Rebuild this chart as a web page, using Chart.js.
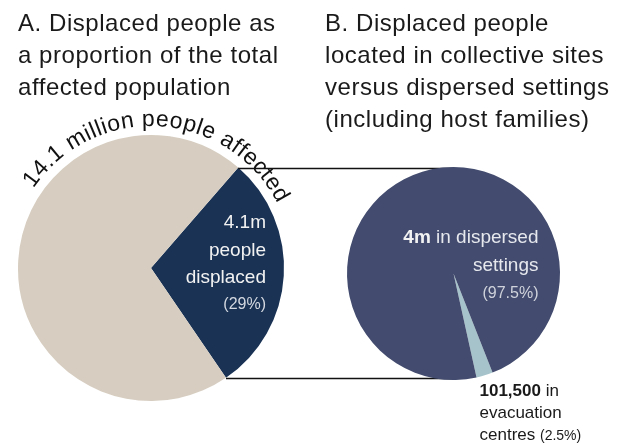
<!DOCTYPE html>
<html>
<head>
<meta charset="utf-8">
<script src="https://cdn.jsdelivr.net/npm/chart.js@4.4.1/dist/chart.umd.min.js"></script>
<style>
  body { margin: 0; background: #fff; }
  #wrap { position: relative; width: 623px; height: 443px; font-family: "Liberation Sans", Arial, sans-serif; color: #1a1a1a; overflow: hidden; }
  canvas { position: absolute; left: 0; top: 0; }
  .title { position: absolute; font-size: 24px; line-height: 32px; letter-spacing: 0.55px; white-space: nowrap; }
</style>
</head>
<body>
<div id="wrap">
  <canvas id="pieA" width="623" height="443"></canvas>
  <canvas id="pieB" width="623" height="443"></canvas>
  <div class="title" style="left:18px; top:7px;">A. Displaced people as<br>a proportion of the total<br>affected population</div>
  <div class="title" style="left:325px; top:7px;">B. Displaced people<br>located in collective sites<br>versus dispersed settings<br>(including host families)</div>
</div>
<script>
// A: displaced vs rest of the affected population (millions)
const affectedLabels = ['People displaced', 'Other affected people'];
const affectedValues = [4.1, 10.0];
const affectedColors = ['#1a3355', '#d7cec1'];
const affectedTotalText = '14.1 million people affected';

// B: where displaced people are staying (% of displaced)
const siteLabels = ['Evacuation centres', 'Dispersed settings'];
const siteValues = [2.5, 97.5];
const siteColors = ['#a6c3cb', '#434c6e'];

const FONT = '"Liberation Sans", Arial, sans-serif';

// total written round the top of pie A
const arcText = {
  id: 'arcText',
  afterDatasetsDraw(chart) {
    const a = chart.getDatasetMeta(0).data[0];
    const ctx = chart.ctx;
    ctx.save();
    ctx.font = '23px ' + FONT;
    ctx.fillStyle = '#111';
    ctx.textAlign = 'center';
    ctx.textBaseline = 'alphabetic';
    const r = a.outerRadius + 9;
    const chars = [...affectedTotalText];
    const widths = chars.map(c => ctx.measureText(c).width);
    const total = widths.reduce((s, w) => s + w, 0);
    const span = 119 * Math.PI / 180 * r;
    const extra = (span - total) / (chars.length - 1);
    let ang = -56 * Math.PI / 180;
    chars.forEach((c, i) => {
      const mid = ang + widths[i] / 2 / r;
      ctx.save();
      ctx.translate(a.x + r * Math.sin(mid), a.y - r * Math.cos(mid));
      ctx.rotate(mid);
      ctx.fillText(c, 0, 0);
      ctx.restore();
      ang += (widths[i] + extra) / r;
    });
    ctx.restore();
  }
};

// labels inside the displaced slice
const labelsA = {
  id: 'labelsA',
  afterDatasetsDraw(chart) {
    const a = chart.getDatasetMeta(0).data[0];
    const ctx = chart.ctx;
    const x = a.x + 115;
    ctx.save();
    ctx.textAlign = 'right';
    ctx.fillStyle = '#f2f2f2';
    ctx.font = '19px ' + FONT;
    ctx.fillText('4.1m', x, a.y - 40);
    ctx.fillText('people', x, a.y - 12);
    ctx.fillText('displaced', x, a.y + 15);
    ctx.fillStyle = '#d4d8e0';
    ctx.font = '16px ' + FONT;
    ctx.fillText('(' + Math.round(affectedValues[0] / (affectedValues[0] + affectedValues[1]) * 100) + '%)', x, a.y + 41);
    ctx.restore();
  }
};

const chartA = new Chart(document.getElementById('pieA'), {
  type: 'pie',
  data: {
    labels: affectedLabels,
    datasets: [{ data: affectedValues, backgroundColor: affectedColors, borderWidth: 0 }]
  },
  options: {
    responsive: false,
    animation: false,
    rotation: 41,
    layout: { padding: { left: 18, right: 339, top: 135, bottom: 42 } },
    plugins: { legend: { display: false }, tooltip: { enabled: false } }
  },
  plugins: [arcText, labelsA]
});

// lines from the displaced slice of A over to pie B
const connectors = {
  id: 'connectors',
  beforeDatasetsDraw(chart) {
    const src = chartA.getDatasetMeta(0).data[0];
    const dst = chart.getDatasetMeta(0).data[0];
    const ctx = chart.ctx;
    ctx.save();
    ctx.strokeStyle = '#111';
    ctx.lineWidth = 1.3;
    [src.startAngle, src.endAngle].forEach(t => {
      const y = Math.round(src.y + src.outerRadius * Math.sin(t)) + 0.5;
      ctx.beginPath();
      ctx.moveTo(src.x + src.outerRadius * Math.cos(t), y);
      ctx.lineTo(dst.x, y);
      ctx.stroke();
    });
    ctx.restore();
  },
  afterDatasetsDraw(chart) {
    const a = chart.getDatasetMeta(0).data[0];
    const ctx = chart.ctx;
    const x = a.x + 85;
    ctx.save();
    ctx.textAlign = 'left';
    ctx.font = 'bold 19px ' + FONT;
    const w4 = ctx.measureText('4m').width;
    ctx.font = '19px ' + FONT;
    const wRest = ctx.measureText(' in dispersed').width;
    ctx.fillStyle = '#f2f2f2';
    ctx.font = 'bold 19px ' + FONT;
    ctx.fillText('4m', x - w4 - wRest, a.y - 31);
    ctx.font = '19px ' + FONT;
    ctx.fillStyle = '#e6e8ee';
    ctx.fillText(' in dispersed', x - wRest, a.y - 31);
    ctx.textAlign = 'right';
    ctx.fillText('settings', x, a.y - 3);
    ctx.fillStyle = '#d0d3dc';
    ctx.font = '16px ' + FONT;
    ctx.fillText('(' + siteValues[1] + '%)', x, a.y + 24);

    // evacuation centres label, below the pie
    const lx = a.x + 26;
    ctx.textAlign = 'left';
    ctx.fillStyle = '#1a1a1a';
    ctx.font = 'bold 17px ' + FONT;
    ctx.fillText('101,500', lx, a.y + 122);
    const wn = ctx.measureText('101,500').width;
    ctx.font = '17px ' + FONT;
    ctx.fillText(' in', lx + wn, a.y + 122);
    ctx.fillText('evacuation', lx, a.y + 144);
    ctx.fillText('centres', lx, a.y + 166);
    const wc = ctx.measureText('centres ').width;
    ctx.font = '14px ' + FONT;
    ctx.fillText('(' + siteValues[0] + '%)', lx + wc, a.y + 166);
    ctx.restore();
  }
};

const chartB = new Chart(document.getElementById('pieB'), {
  type: 'pie',
  data: {
    labels: siteLabels,
    datasets: [{ data: siteValues, backgroundColor: siteColors, borderWidth: 0 }]
  },
  options: {
    responsive: false,
    animation: false,
    rotation: 158.5,
    layout: { padding: { left: 347, right: 63, top: 167, bottom: 63 } },
    plugins: { legend: { display: false }, tooltip: { enabled: false } }
  },
  plugins: [connectors]
});
</script>
</body>
</html>
